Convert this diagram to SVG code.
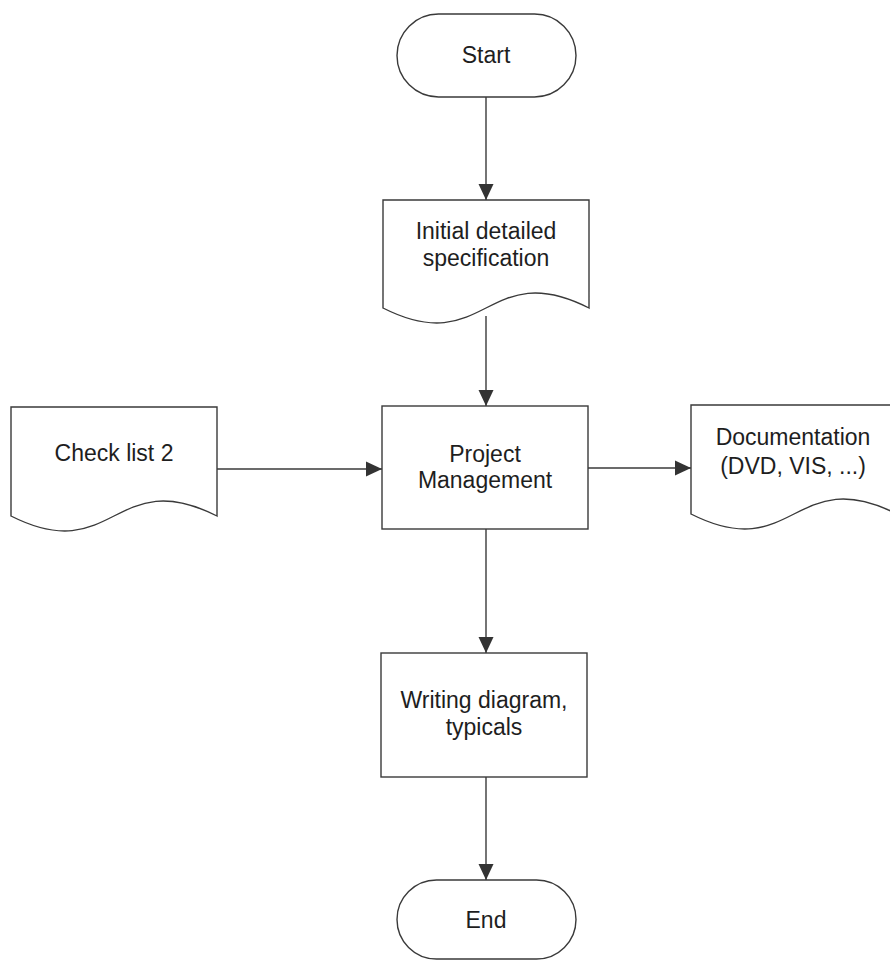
<svg xmlns="http://www.w3.org/2000/svg" width="890" height="960" viewBox="0 0 890 960">
  <style>
    .shape { fill: #ffffff; stroke: #3a3a3a; stroke-width: 1.4; }
    .label { font-family: "Liberation Sans", Arial, sans-serif; font-size: 23px; fill: #1e1e1e; text-anchor: middle; }
    .edge { fill: none; stroke: #3a3a3a; stroke-width: 1.4; marker-end: url(#arrow); }
  </style>
  <defs>
    <marker id="arrow" viewBox="0 0 16 16" refX="16" refY="8" markerWidth="16" markerHeight="16" markerUnits="userSpaceOnUse" orient="auto">
      <path d="M0,0.5 L16,8 L0,15.5 Z" fill="#333333"/>
    </marker>
  </defs>
  <rect width="890" height="960" fill="#ffffff"/>

  <g id="connectors">
    <line class="edge" x1="486" y1="97" x2="486" y2="200"/>
    <line class="edge" x1="486" y1="316" x2="486" y2="406"/>
    <line class="edge" x1="217" y1="469" x2="382" y2="469"/>
    <line class="edge" x1="588" y1="468" x2="691" y2="468"/>
    <line class="edge" x1="486" y1="529" x2="486" y2="653"/>
    <line class="edge" x1="486" y1="777" x2="486" y2="880"/>
  </g>

  <g id="start">
    <rect class="shape" x="397" y="14" width="179" height="83" rx="41.5" ry="41.5"/>
    <text class="label" x="486" y="63">Start</text>
  </g>

  <g id="initial-spec">
    <path class="shape" d="M383,200 H589 V308 C486,256 486,360 383,308 Z"/>
    <text class="label" x="486" y="239">Initial detailed</text>
    <text class="label" x="486" y="266">specification</text>
  </g>

  <g id="check-list">
    <path class="shape" d="M11,407 H217 V516 C114,464 114,568 11,516 Z"/>
    <text class="label" x="114" y="461">Check list 2</text>
  </g>

  <g id="project-management">
    <rect class="shape" x="382" y="406" width="206" height="123"/>
    <text class="label" x="485" y="462">Project</text>
    <text class="label" x="485" y="488">Management</text>
  </g>

  <g id="documentation">
    <path class="shape" d="M691,405 H897 V514 C794,462 794,566 691,514 Z"/>
    <text class="label" x="793" y="445">Documentation</text>
    <text class="label" x="793" y="474">(DVD, VIS, ...)</text>
  </g>

  <g id="writing-diagram">
    <rect class="shape" x="381" y="653" width="206" height="124"/>
    <text class="label" x="484" y="708">Writing diagram,</text>
    <text class="label" x="484" y="735">typicals</text>
  </g>

  <g id="end">
    <rect class="shape" x="397" y="880" width="179" height="79" rx="39.5" ry="39.5"/>
    <text class="label" x="486" y="928">End</text>
  </g>
</svg>
